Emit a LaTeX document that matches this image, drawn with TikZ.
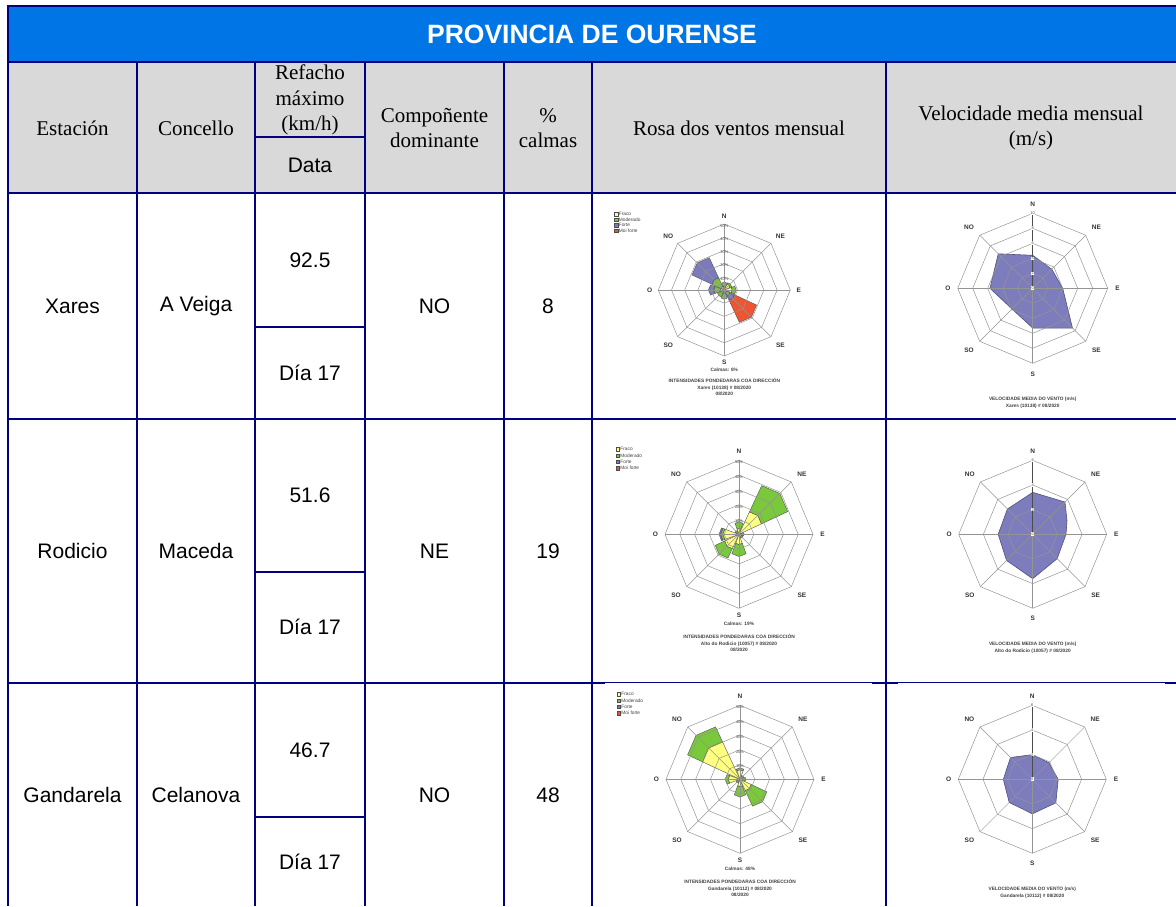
\documentclass[tikz,border=0pt]{standalone}
\usepackage{fontspec}
\setmainfont{Liberation Serif}
\newfontfamily\arial{Liberation Sans}
\definecolor{navy}{RGB}{0,0,128}
\definecolor{titleblue}{RGB}{0,117,230}
\definecolor{hdrgray}{RGB}{217,217,217}
\definecolor{fraco}{RGB}{255,255,130}
\definecolor{moder}{RGB}{122,200,60}
\definecolor{forte}{RGB}{122,122,188}
\definecolor{moifor}{RGB}{240,85,50}
\definecolor{spdfill}{RGB}{125,125,190}
\tikzset{
  tbl/.style={line width=2pt, draw=navy},
  hdr/.style={font=\fontsize{21}{25.5}\selectfont, align=center, inner sep=0pt},
  cell/.style={font=\arial\fontsize{21}{25}\selectfont, inner sep=0pt},
  ttl/.style={font=\arial\bfseries\fontsize{26.5}{30}\selectfont, text=white, inner sep=0pt},
  ring/.style={draw=black!42, line width=0.5pt},
  cmp/.style={font=\arial\bfseries\fontsize{6.5}{7}\selectfont, text=black!80, inner sep=0pt},
  small/.style={font=\arial\bfseries\fontsize{4.8}{6.6}\selectfont, text=black!75, inner sep=0pt, align=center},
  tiny/.style={font=\arial\fontsize{4}{4.5}\selectfont, text=black!70, inner sep=0.4pt},
  lgd/.style={font=\arial\fontsize{4.8}{5}\selectfont, text=black!75, inner sep=0pt},
  petal/.style={draw=black!65, line width=0.45pt},
  spd/.style={fill=spdfill, draw=spdfill!65!black, line width=0.6pt},
  imgbg/.style={fill=white, draw=none}
}
\newcommand\Petal[4]{%
  \filldraw[petal,fill=#4] (#1-20:{#2*\roseunit*0.93}) -- (#1:{#2*\roseunit}) -- (#1+20:{#2*\roseunit*0.93})
   -- (#1+20:{#3*\roseunit*0.93}) -- (#1:{#3*\roseunit}) -- (#1-20:{#3*\roseunit*0.93}) -- cycle;}
\newcommand\CompassLabels[2]{%
  \node[cmp] at (0,{1.12*#1}) {N};
  \node[cmp] at (0,{-#2*#1}) {S};
  \node[cmp] at ({1.13*#1},0) {E};
  \node[cmp] at ({-1.13*#1},0) {O};
  \node[cmp] at ({-0.85*#1},{0.81*#1}) {NO};
  \node[cmp] at ({0.85*#1},{0.81*#1}) {NE};
  \node[cmp] at ({-0.85*#1},{-0.83*#1}) {SO};
  \node[cmp] at ({0.85*#1},{-0.83*#1}) {SE};}
\newcommand\RoseChart[6]{%
\begin{scope}[shift={(#1,#2)},yscale=-1]
  \pgfmathsetmacro\roseunit{#3/50}
  #4
  \foreach \k in {1,...,5}{%
    \draw[ring] (0:{\k*#3/5}) \foreach \a in {45,90,...,315}{ -- (\a:{\k*#3/5})} -- cycle;}
  \foreach \a in {0,45,...,315} \draw[ring] (0,0) -- (\a:#3);
  \foreach \k in {1,...,5}{\pgfmathtruncatemacro\pc{10*\k}%
    \node[tiny] at (90:{\k*#3/5-2}) {\pc\%};}
  \CompassLabels{#3}{1.1}
  \node[small] at (0,{-1.215*#3}) {Calmas: #5\%};
  \node[small] at (0,{-1.47*#3}) {INTENSIDADES PONDEDARAS COA DIRECCIÓN\\#6 \# 08/2020\\08/2020};
  \foreach [count=\i] \lc/\lt in {fraco/Fraco,moder/Moderado,forte/Forte,moifor/Moi forte}{%
    \filldraw[fill=\lc, draw=black!70, line width=0.3pt]
      ({-1.64*#3-1.7},{1.15*#3-(\i-1)*0.085*#3-1.7}) rectangle +(3.4,3.4);
    \node[lgd, anchor=west] at ({-1.64*#3+2.6},{1.15*#3-(\i-1)*0.085*#3}) {\lt};}
\end{scope}}
\newcommand\SpeedChart[6]{%
\begin{scope}[shift={(#1,#2)},yscale=-1]
  \pgfmathsetmacro\spdunit{#3/#5}
  \SpdPoly
  \foreach \k in {1,...,#4}{%
    \draw[ring] (0:{\k*#3/#4}) \foreach \a in {45,90,...,315}{ -- (\a:{\k*#3/#4})} -- cycle;}
  \foreach \a in {0,45,...,315} \draw[ring] (0,0) -- (\a:#3);
  \draw[draw=black!70, line width=0.7pt] (0,0) -- (90:#3);
  \foreach \k in {0,...,#4}{\pgfmathtruncatemacro\lab{\k*#5/#4}%
    \node[tiny,fill=white] at (90:{\k*#3/#4}) {\lab};}
  \CompassLabels{#3}{1.14}
  \node[small] at (0,{-1.53*#3}) {VELOCIDADE MEDIA DO VENTO (m/s)\\#6 \# 08/2020};
\end{scope}}
\begin{document}
\begin{tikzpicture}[x=1pt,y=-1pt]
\useasboundingbox (0,0) rectangle (1176,906);
% backgrounds
\fill[titleblue] (8,6) rectangle (1176,62);
\fill[hdrgray] (8,62) rectangle (1176,193);
\node[ttl] (title) at (592,34) {PROVINCIA DE OURENSE};
% header
\node[hdr] (hEst) at (72.5,128) {Estación};
\node[hdr] (hCon) at (196,128) {Concello};
\node[hdr] (hRef) at (310,100) {Refacho\\máximo\\(km/h)};
\node[cell] (hDat) at (310,165) {Data};
\node[hdr] (hCom) at (434.5,128) {Compoñente\\dominante};
\node[hdr] (hCal) at (548,128) {\%\\calmas};
\node[hdr] (hRos) at (739,128) {Rosa dos ventos mensual};
\node[hdr] (hVel) at (1031,128) {Velocidade media mensual\\(m/s)};
% row 1
\node[cell] (r1a) at (72.5,306) {Xares};
\node[cell] (r1b) at (196,306) {A Veiga};
\node[cell] (r1c) at (310,260) {92.5};
\node[cell] (r1d) at (310,373) {Día 17};
\node[cell] (r1e) at (434.5,306) {NO};
\node[cell] (r1f) at (548,306) {8};
% row 2
\node[cell] (r2a) at (72.5,551) {Rodicio};
\node[cell] (r2b) at (196,551) {Maceda};
\node[cell] (r2c) at (310,495) {51.6};
\node[cell] (r2d) at (310,627) {Día 17};
\node[cell] (r2e) at (434.5,551) {NE};
\node[cell] (r2f) at (548,551) {19};
% row 3
\node[cell] (r3a) at (72.5,795) {Gandarela};
\node[cell] (r3b) at (196,795) {Celanova};
\node[cell] (r3c) at (310,750) {46.7};
\node[cell] (r3d) at (310,862) {Día 17};
\node[cell] (r3e) at (434.5,795) {NO};
\node[cell] (r3f) at (548,795) {48};
% table lines
\draw[tbl] (1176,6) -- (8,6) -- (8,906);
\foreach \yy in {62,193,419,683} \draw[tbl] (8,\yy) -- (1176,\yy);
\foreach \xx in {137,255,365,504,592,886} \draw[tbl] (\xx,62) -- (\xx,906);
\draw[tbl] (255,137) -- (365,137);
\draw[tbl] (255,327) -- (365,327);
\draw[tbl] (255,572) -- (365,572);
\draw[tbl] (255,817) -- (365,817);
% white image backgrounds that overlap the row lines
\fill[imgbg] (899,193.6) rectangle (1165,200);
\fill[imgbg] (605,683) rectangle (872,690);
\fill[imgbg] (898,683) rectangle (1165,690);
% wind roses
\RoseChart{724.3}{290}{66}{%
  \Petal{90}{0}{3}{fraco}\Petal{90}{3}{6}{moder}
  \Petal{45}{0}{5}{fraco}\Petal{45}{5}{6.5}{moder}
  \Petal{0}{0}{6}{fraco}\Petal{0}{6}{9}{moder}
  \Petal{-45}{0}{2}{fraco}\Petal{-45}{2}{5}{moder}\Petal{-45}{5}{9}{forte}\Petal{-45}{9}{29}{moifor}
  \Petal{-90}{0}{3}{fraco}\Petal{-90}{3}{7}{moder}
  \Petal{-135}{0}{2}{fraco}\Petal{-135}{2}{6}{moder}
  \Petal{180}{0}{3}{fraco}\Petal{180}{3}{8}{moder}\Petal{180}{8}{12}{forte}
  \Petal{135}{0}{3}{fraco}\Petal{135}{3}{11}{moder}\Petal{135}{11}{29}{forte}}{8}{Xares (10138)}
\RoseChart{739}{534.3}{74}{%
  \Petal{90}{0}{4}{fraco}\Petal{90}{4}{8.5}{moder}
  \Petal{45}{0}{18}{fraco}\Petal{45}{18}{39}{moder}
  \Petal{0}{0}{2}{fraco}\Petal{0}{2}{3.5}{moder}
  \Petal{-45}{0}{2}{fraco}\Petal{-45}{2}{3}{moder}
  \Petal{-90}{0}{7}{fraco}\Petal{-90}{7}{15}{moder}
  \Petal{-135}{0}{11.5}{fraco}\Petal{-135}{11.5}{19}{moder}
  \Petal{180}{0}{11}{fraco}\Petal{180}{11}{12.5}{moder}\Petal{180}{12.5}{13.5}{forte}
  \Petal{135}{0}{2}{fraco}\Petal{135}{2}{3}{moder}}{19}{Alto do Rodicio (10057)}
\RoseChart{740}{779.3}{74}{%
  \Petal{90}{0}{6.5}{fraco}\Petal{90}{6.5}{7.8}{moder}
  \Petal{45}{0}{2}{fraco}\Petal{45}{2}{3}{moder}
  \Petal{0}{0}{3}{fraco}\Petal{0}{3}{4}{moder}
  \Petal{-45}{0}{9}{fraco}\Petal{-45}{9}{21.5}{moder}
  \Petal{-90}{0}{5}{fraco}\Petal{-90}{5}{12}{moder}
  \Petal{-135}{0}{2}{fraco}\Petal{-135}{2}{3}{moder}
  \Petal{180}{0}{8}{fraco}\Petal{180}{8}{10}{moder}
  \Petal{135}{0}{30}{fraco}\Petal{135}{30}{42}{moder}}{48}{Gandarela (10112)}
% mean speed charts
\def\SpdPoly{\filldraw[spd] (90:{4.4*\spdunit}) -- (45:{3.6*\spdunit}) -- (0:{4.0*\spdunit}) -- (-45:{7.5*\spdunit})
  -- (-90:{5.3*\spdunit}) -- (-135:{3.9*\spdunit}) -- (180:{5.7*\spdunit}) -- (135:{6.5*\spdunit}) -- cycle;}
\SpeedChart{1032.7}{288.3}{75}{5}{10}{Xares (10138)}
\def\SpdPoly{\filldraw[spd] (90:{3.4*\spdunit}) -- (45:{3.7*\spdunit}) -- (22:{3.0*\spdunit}) -- (0:{2.7*\spdunit}) -- (-45:{2.8*\spdunit})
  -- (-90:{3.6*\spdunit}) -- (-135:{3.0*\spdunit}) -- (180:{2.8*\spdunit}) -- (135:{2.9*\spdunit}) -- cycle;}
\SpeedChart{1032.7}{534.3}{74}{3}{6}{Alto do Rodicio (10057)}
\def\SpdPoly{\filldraw[spd] (90:{2.0*\spdunit}) -- (45:{1.9*\spdunit}) -- (0:{2.1*\spdunit}) -- (-45:{2.7*\spdunit})
  -- (-90:{2.8*\spdunit}) -- (-135:{2.65*\spdunit}) -- (180:{2.35*\spdunit}) -- (135:{2.5*\spdunit}) -- cycle;}
\SpeedChart{1032.3}{779.3}{74}{3}{6}{Gandarela (10112)}
\end{tikzpicture}
\end{document}
